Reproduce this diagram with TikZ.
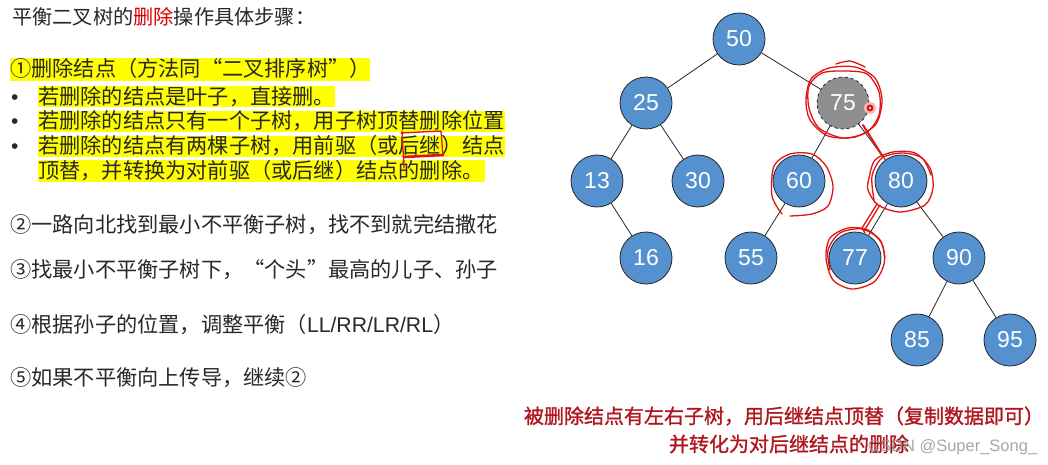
\documentclass[tikz,border=0pt]{standalone}
\usepackage{fontspec}
\newfontfamily\cjk{Noto Sans CJK SC}
\newfontfamily\cjkb[FakeBold=1.2]{Noto Sans CJK SC}
\newfontfamily\lat{Liberation Sans}
\definecolor{nodeblue}{RGB}{86,145,207}
\definecolor{nodegray}{RGB}{143,143,143}
\definecolor{textgray}{RGB}{40,40,40}
\definecolor{hlyellow}{RGB}{255,255,0}
\definecolor{annred}{RGB}{225,20,20}
\definecolor{capred}{RGB}{176,22,30}
\begin{document}
\begin{tikzpicture}[x=1pt,y=-1pt,
  tn/.style={circle, draw=black!85, line width=0.8pt, fill=nodeblue, minimum size=52pt, inner sep=0pt, text=white, font=\lat\fontsize{23}{23}\selectfont},
  delnode/.style={tn, fill=nodegray, dashed},
  treeedge/.style={draw=black!85, line width=0.8pt},
  txt/.style={anchor=base west, inner sep=0pt, font=\cjk\fontsize{21.2}{21.2}\selectfont, text=textgray},
  bul/.style={anchor=base west, inner sep=0pt, font=\lat\fontsize{21}{21}\selectfont, text=textgray},
  hl/.style={fill=hlyellow},
  ann/.style={draw=annred, line width=1.3pt, line cap=round, line join=round},
  captxt/.style={inner sep=0pt, font=\cjkb\fontsize{20}{20}\selectfont, text=capred}
]
\useasboundingbox (0,0) rectangle (1048,465);
\fill[white] (0,0) rectangle (1048,465);

% yellow highlights
\fill[hl] (10,58) rectangle (370,81);
\fill[hl] (38,86) rectangle (335,107);
\fill[hl] (38,111) rectangle (505,132);
\fill[hl] (38,136) rectangle (505,157);
\fill[hl] (38,160) rectangle (485,182);

% left texts
\node[txt, font=\cjk\fontsize{20.2}{20.2}\selectfont] (title) at (12,25) {平衡二叉树的\textcolor{red!85!black}{删除}操作具体步骤：};
\node[txt] (s1) at (10,76.5) {①删除结点（方法同“二叉排序树”）};
\node[bul] (b1) at (11,104.5) {•};
\node[txt] (s1a) at (38,104.5) {若删除的结点是叶子，直接删。};
\node[bul] (b2) at (11,128.5) {•};
\node[txt] (s1b) at (38,128.5) {若删除的结点只有一个子树，用子树顶替删除位置};
\node[bul] (b3) at (11,153.5) {•};
\node[txt] (s1c) at (38,153.5) {若删除的结点有两棵子树，用前驱（或后继）结点};
\node[txt] (s1d) at (38,178.5) {顶替，并转换为对前驱（或后继）结点的删除。};
\node[txt] (s2) at (10,232.5) {②一路向北找到最小不平衡子树，找不到就完结撒花};
\node[txt] (s3) at (10,277.5) {③找最小不平衡子树下，“个头”最高的儿子、孙子};
\node[txt] (s4) at (10,332.5) {④根据孙子的位置，调整平衡（{\lat LL/RR/LR/RL}）};
\node[txt] (s5) at (10,385.5) {⑤如果不平衡向上传导，继续②};

% red box around 后继
\draw[ann] (401,133) -- (441,131) -- (443,156);
\draw[ann] (402,131) -- (404,168);
\draw[annred, line width=2.6pt, line cap=round] (404,157) -- (443,155);

% tree
\node[tn] (n50) at (739,39) {50};
\node[tn] (n25) at (646,103) {25};
\node[delnode] (n75) at (843,103) {75};
\node[tn] (n13) at (597,181) {13};
\node[tn] (n30) at (698,181) {30};
\node[tn] (n60) at (799,181) {60};
\node[tn] (n80) at (901,181) {80};
\node[tn] (n16) at (646,258) {16};
\node[tn] (n55) at (751,258) {55};
\node[tn] (n77) at (855,258) {77};
\node[tn] (n90) at (959,258) {90};
\node[tn] (n85) at (917,340) {85};
\node[tn] (n95) at (1010,340) {95};

\draw[treeedge] (n50) -- (n25);
\draw[treeedge] (n50) -- (n75);
\draw[treeedge] (n25) -- (n13);
\draw[treeedge] (n25) -- (n30);
\draw[treeedge] (n75) -- (n60);
\draw[treeedge] (n75) -- (n80);
\draw[treeedge] (n13) -- (n16);
\draw[treeedge] (n60) -- (n55);
\draw[treeedge] (n80) -- (n77);
\draw[treeedge] (n80) -- (n90);
\draw[treeedge] (n90) -- (n85);
\draw[treeedge] (n90) -- (n95);

% red freehand annotations
\draw[ann] plot[smooth cycle] coordinates {(806,100) (811,79) (829,68) (855,67) (875,78) (882,100) (876,124) (855,137) (828,136) (810,120)};
\draw[ann] plot[smooth cycle] coordinates {(809,108) (809,86) (822,73) (845,71) (867,74) (879,92) (879,115) (867,132) (843,138) (819,128)};
\draw[ann] plot[smooth] coordinates {(836,64) (850,61) (865,67)};
\draw[ann] plot[smooth] coordinates {(782,214) (772,196) (774,166) (790,154) (812,154) (826,166) (833,186) (828,206) (812,214) (790,216)};
\draw[ann] plot[smooth cycle] coordinates {(869,178) (875,160) (893,152) (915,153) (930,168) (933,188) (925,205) (900,212) (878,205) (868,190)};
\draw[ann] plot[smooth] coordinates {(874,200) (872,176) (882,158) (902,153) (922,158) (931,175)};
\draw[annred, line width=2pt, line cap=round] (863,125) -- (883,157);
\draw[ann] (880,205) -- (864,231);
\draw[ann] (877,204) -- (862,228) -- (865,233);
\draw[ann] plot[smooth cycle] coordinates {(826,258) (830,238) (848,228) (868,230) (882,244) (884,264) (874,282) (852,289) (833,280)};
\draw[ann] plot[smooth] coordinates {(830,270) (828,250) (840,233) (862,229) (880,240) (885,258)};

% laser pointer dot
\fill[annred!30] (870,108) circle (6);
\fill[annred] (870,108) circle (3.5);
\fill[white] (870,108) circle (1.2);

% caption
\node[captxt] (cap1) at (784,416) {被删除结点有左右子树，用后继结点顶替（复制数据即可）};
\node[captxt] (cap2) at (789,444) {并转化为对后继结点的删除};

% watermark
\node[anchor=base west, inner sep=0pt, text=gray!80, opacity=0.85, font=\lat\fontsize{16.5}{16.5}\selectfont] (wm) at (868,451) {CSDN @Super\_Song\_};
\end{tikzpicture}
\end{document}
